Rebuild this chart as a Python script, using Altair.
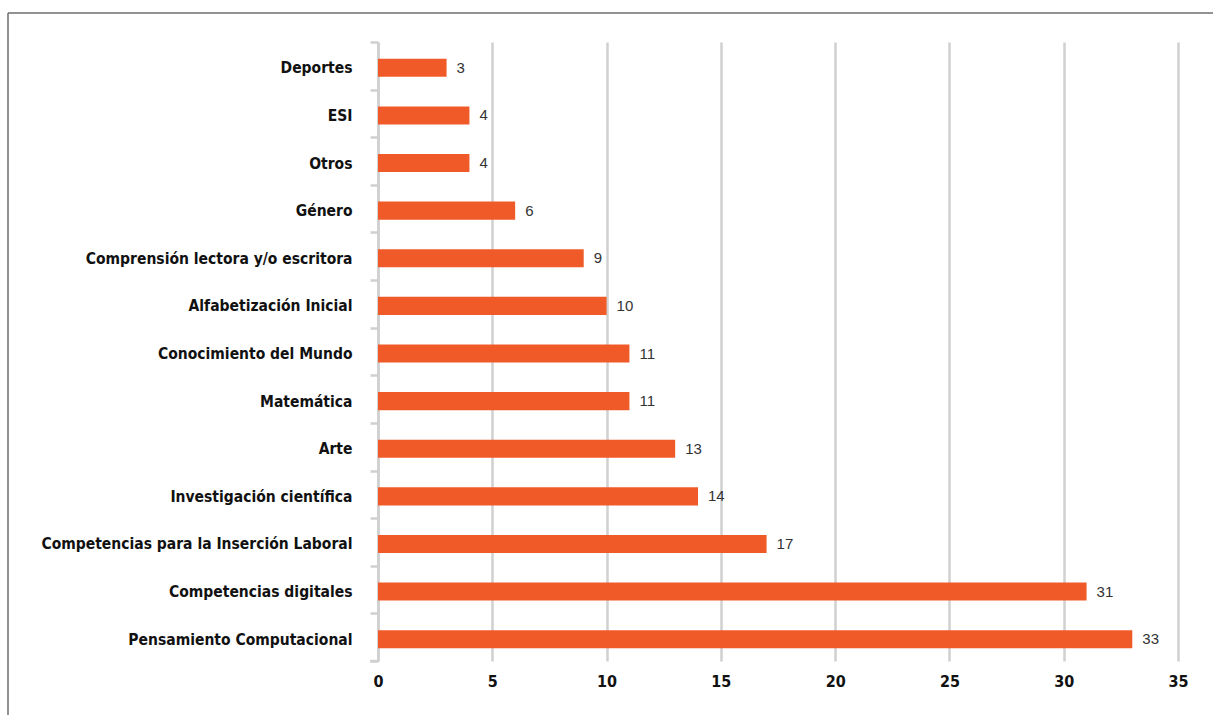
import altair as alt
import pandas as pd

categories = [
    "Deportes", "ESI", "Otros", "Género", "Comprensión lectora y/o escritora",
    "Alfabetización Inicial", "Conocimiento del Mundo", "Matemática", "Arte",
    "Investigación científica", "Competencias para la Inserción Laboral",
    "Competencias digitales", "Pensamiento Computacional",
]
values = [3, 4, 4, 6, 9, 10, 11, 11, 13, 14, 17, 31, 33]
x_ticks = [0, 5, 10, 15, 20, 25, 30, 35]

df = pd.DataFrame({"cat": categories, "val": values})

LABEL_FONT = "Liberation Sans Narrow, DejaVu Sans Condensed, Roboto Condensed, Arial Narrow, Roboto, sans-serif"
GRID = "#d0d0d0"

y_enc = alt.Y(
    "cat:N", sort=categories, title=None,
    scale=alt.Scale(paddingInner=0, paddingOuter=0),
    axis=alt.Axis(
        domain=True, domainColor=GRID, domainWidth=2.5,
        ticks=True, tickColor=GRID, tickWidth=2.5, tickSize=8,
        tickBand="extent", labelOffset=2,
        labelFont=LABEL_FONT, labelFontWeight="bold", labelFontSize=15.5,
        labelColor="#111111", labelPadding=18, grid=False, labelLimit=400,
    ),
)
x_enc = alt.X(
    "val:Q", title=None,
    scale=alt.Scale(domain=[0, 35], nice=False),
    axis=alt.Axis(
        values=x_ticks, domain=False, ticks=False, grid=True,
        gridColor=GRID, gridWidth=2.5, labelFlush=False,
        labelFont=LABEL_FONT, labelFontWeight="bold", labelFontSize=16,
        labelColor="#111111", labelPadding=12,
    ),
)

bars = alt.Chart(df).mark_bar(
    color="#F05A28", yOffset=2, height=alt.RelativeBandSize(0.38)
).encode(x=x_enc, y=y_enc)
labels = alt.Chart(df).mark_text(
    align="left", baseline="middle", dx=10, dy=2,
    font="Liberation Sans, Roboto, sans-serif",
    fontSize=15, color="#333333",
).encode(x="val:Q", y=alt.Y("cat:N", sort=categories), text="val:Q")

frame = pd.DataFrame({"k": [0]})
bottom_tick = alt.Chart(frame).mark_rule(color=GRID, strokeWidth=2.5).encode(
    x=alt.value(-8), x2=alt.value(0), y=alt.value(619))
border_top = alt.Chart(frame).mark_rule(color="#6e6e6e", strokeWidth=1.5).encode(
    x=alt.value(-370), x2=alt.value(836), y=alt.value(-29))
border_left = alt.Chart(frame).mark_rule(color="#6e6e6e", strokeWidth=1.5).encode(
    x=alt.value(-370), y=alt.value(-29), y2=alt.value(700))

chart = alt.layer(bars, labels, bottom_tick, border_top, border_left).properties(
    width=800, height=619,
    autosize=alt.AutoSizeParams(type="none"),
    padding={"left": 378, "top": 42, "right": 35, "bottom": 54},
).configure_view(stroke=None)

chart.save("out.html", embed_options={"renderer": "svg", "actions": False})
